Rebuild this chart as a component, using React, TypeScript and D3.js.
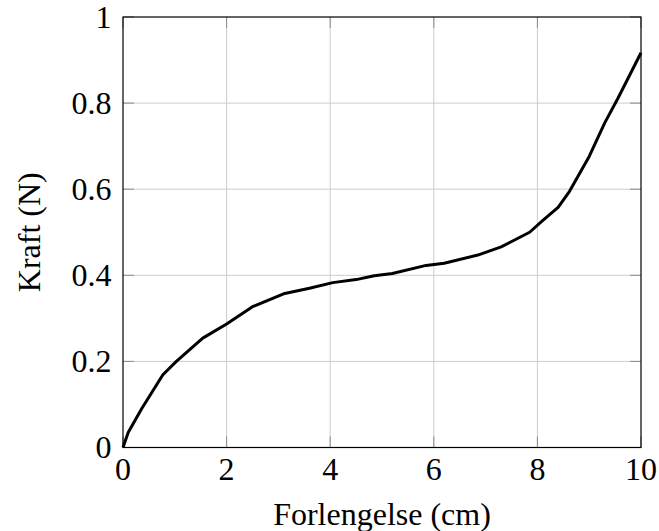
import { useRef, useEffect } from 'react';
import * as d3 from 'd3';

// extension (cm) and force (N)
const forlengelse = [0, 0.1, 0.36, 0.77, 1.03, 1.54, 2.0, 2.5, 3.1, 3.6, 4.05, 4.5, 4.85, 5.2, 5.85, 6.2, 6.85, 7.3, 7.85, 8.1, 8.4, 8.62, 9.0, 9.3, 9.55, 10];
const kraft = [0, 0.035, 0.09, 0.169, 0.2, 0.254, 0.287, 0.327, 0.357, 0.37, 0.383, 0.39, 0.399, 0.404, 0.423, 0.428, 0.447, 0.466, 0.5, 0.527, 0.558, 0.595, 0.676, 0.754, 0.81, 0.917];

const xTicks = [0, 2, 4, 6, 8, 10];
const yTicks = [0, 0.2, 0.4, 0.6, 0.8, 1];

const FONT = '"Liberation Serif", serif';
const FS = 32;

function App() {
  const svgRef = useRef<SVGSVGElement>(null);

  useEffect(() => {
    const width = 659;
    const height = 531;
    const margin = { top: 17, right: 18, bottom: 83.5, left: 123 };

    const root = d3.select(svgRef.current);
    root.selectAll('*').remove();
    root.attr('width', width).attr('height', height);

    const svg = root.append('g').attr('transform', `translate(${margin.left},${margin.top})`);
    const innerWidth = width - margin.left - margin.right;
    const innerHeight = height - margin.top - margin.bottom;

    const x = d3.scaleLinear().domain([0, 10]).range([0, innerWidth]);
    const y = d3.scaleLinear().domain([0, 1]).range([innerHeight, 0]);

    // grid
    svg.append('g').selectAll('line').data(xTicks.slice(1, -1)).enter().append('line')
      .attr('x1', d => x(d)).attr('x2', d => x(d)).attr('y1', 0).attr('y2', innerHeight)
      .attr('stroke', '#cccccc').attr('stroke-width', 1);
    svg.append('g').selectAll('line').data(yTicks.slice(1, -1)).enter().append('line')
      .attr('y1', d => y(d)).attr('y2', d => y(d)).attr('x1', 0).attr('x2', innerWidth)
      .attr('stroke', '#cccccc').attr('stroke-width', 1);

    // inward ticks on all four sides
    const tl = 11;
    const ticks = svg.append('g').attr('stroke', '#8c8c8c').attr('stroke-width', 1);
    xTicks.forEach(t => {
      ticks.append('line').attr('x1', x(t)).attr('x2', x(t)).attr('y1', innerHeight).attr('y2', innerHeight - tl);
      ticks.append('line').attr('x1', x(t)).attr('x2', x(t)).attr('y1', 0).attr('y2', tl);
    });
    yTicks.forEach(t => {
      ticks.append('line').attr('y1', y(t)).attr('y2', y(t)).attr('x1', 0).attr('x2', tl);
      ticks.append('line').attr('y1', y(t)).attr('y2', y(t)).attr('x1', innerWidth).attr('x2', innerWidth - tl);
    });

    // frame
    svg.append('rect').attr('width', innerWidth).attr('height', innerHeight)
      .attr('fill', 'none').attr('stroke', '#000').attr('stroke-width', 1.2);

    // curve
    const pts = forlengelse.map((v, i) => [v, kraft[i]] as [number, number]);
    const line = d3.line<[number, number]>().x(d => x(d[0])).y(d => y(d[1]));
    svg.append('path').datum(pts).attr('d', line)
      .attr('fill', 'none').attr('stroke', '#000').attr('stroke-width', 3)
      .attr('stroke-linejoin', 'round');

    // tick labels
    svg.append('g').selectAll('text').data(xTicks).enter().append('text')
      .attr('x', d => x(d)).attr('y', innerHeight + 32.5)
      .attr('text-anchor', 'middle').attr('font-family', FONT).attr('font-size', FS)
      .text(d => String(d));
    svg.append('g').selectAll('text').data(yTicks).enter().append('text')
      .attr('x', -11.5).attr('y', d => y(d) + 10.8)
      .attr('text-anchor', 'end').attr('font-family', FONT).attr('font-size', FS)
      .text(d => String(d));

    // axis titles
    svg.append('text').attr('x', innerWidth / 2).attr('y', innerHeight + 77.5)
      .attr('text-anchor', 'middle').attr('font-family', FONT).attr('font-size', FS)
      .text('Forlengelse (cm)');
    svg.append('text')
      .attr('transform', `translate(${-83},${innerHeight / 2}) rotate(-90)`)
      .attr('text-anchor', 'middle').attr('font-family', FONT).attr('font-size', FS)
      .text('Kraft (N)');
  }, []);

  return (
    <div style={{ position: 'absolute', left: 0, top: 0, background: '#fff' }}>
      <svg ref={svgRef}></svg>
    </div>
  );
}

export default App;
